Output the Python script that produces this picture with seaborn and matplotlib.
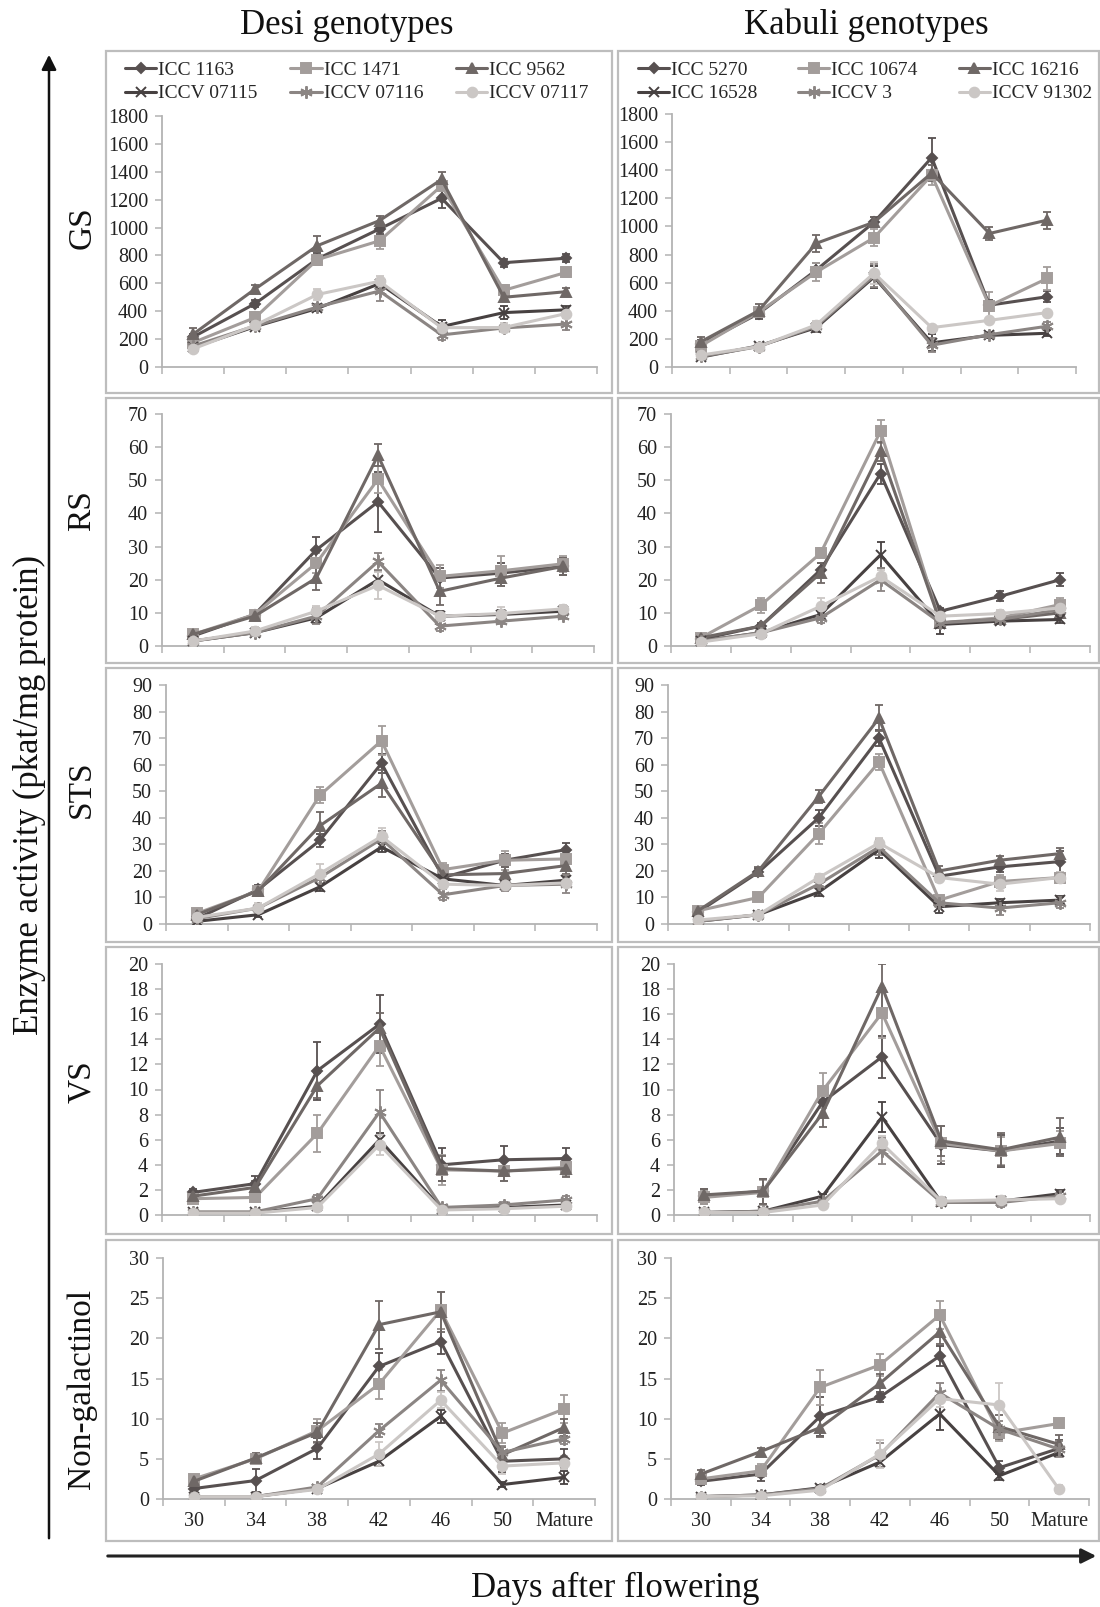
import numpy as np
import pandas as pd
import matplotlib
matplotlib.use("Agg")
import matplotlib.pyplot as plt
from matplotlib.patches import Rectangle, FancyArrowPatch
import seaborn as sns

# ---------------- data ----------------
days = ["30", "34", "38", "42", "46", "50", "Mature"]
desi = ["ICC 1163", "ICC 1471", "ICC 9562", "ICCV 07115", "ICCV 07116", "ICCV 07117"]
kabuli = ["ICC 5270", "ICC 10674", "ICC 16216", "ICC 16528", "ICCV 3", "ICCV 91302"]
enzymes = ["GS", "RS", "STS", "VS", "Non-galactinol"]
y_max = [1800, 70, 90, 20, 30]
y_step = [200, 10, 10, 2, 5]

gs_desi = [[215, 455, 775, 990, 1210, 748, 780],
           [175, 355, 770, 905, 1300, 550, 678],
           [235, 560, 870, 1050, 1345, 500, 540],
           [140, 290, 420, 598, 290, 390, 410],
           [150, 295, 430, 545, 230, 280, 308],
           [130, 300, 520, 615, 282, 283, 383]]
gs_desi_err = [[25, 25, 40, 35, 70, 30, 30],
               [20, 40, 30, 60, 40, 40, 30],
               [45, 25, 70, 30, 55, 25, 25],
               [15, 20, 20, 30, 50, 45, 25],
               [15, 20, 20, 75, 35, 20, 40],
               [20, 15, 40, 40, 30, 30, 30]]
gs_kab = [[165, 380, 690, 1030, 1490, 440, 500],
          [150, 390, 675, 920, 1365, 435, 630],
          [180, 400, 880, 1030, 1380, 950, 1045],
          [70, 150, 280, 640, 172, 225, 240],
          [75, 145, 290, 650, 155, 230, 290],
          [85, 145, 300, 668, 280, 332, 387]]
gs_kab_err = [[25, 40, 50, 35, 140, 40, 40],
              [25, 30, 65, 60, 70, 100, 80],
              [30, 45, 60, 35, 60, 45, 60],
              [10, 20, 30, 80, 60, 20, 20],
              [10, 20, 30, 80, 50, 20, 30],
              [20, 20, 30, 80, 20, 15, 20]]

rs_desi = [[3, 9.5, 29, 43.5, 20.5, 22, 24],
           [3.5, 9.5, 25, 50.3, 21, 22.7, 24.8],
           [3.5, 9, 20.5, 57.5, 16.5, 20.5, 24],
           [1.5, 4, 8.5, 20, 9, 9.5, 10.5],
           [1.5, 4, 9, 25.5, 6, 7.5, 9],
           [1.5, 4.5, 10.5, 18.3, 9, 9.8, 11.2]]
rs_desi_err = [[0.8, 1, 4, 9, 3, 3, 2.5],
               [0.8, 1, 3, 4, 3.5, 4.5, 2.5],
               [0.8, 1, 3.5, 3.3, 4, 2.5, 2.5],
               [0.5, 1, 1.5, 2.5, 1.5, 1.5, 1],
               [0.5, 1, 2.5, 2.5, 1.5, 1, 1],
               [0.5, 1.3, 1.5, 4, 1, 2, 1.2]]
rs_kab = [[2, 6, 23, 52, 10.5, 15, 20],
          [2.5, 12.3, 28, 64.8, 7, 8.5, 12.5],
          [2.5, 6, 22, 58.7, 7, 8, 10],
          [1.5, 4, 9.5, 27.5, 6.5, 7.5, 8],
          [1.5, 4, 8.5, 20, 7, 8, 11],
          [1.2, 3.7, 12, 21, 9, 9.8, 11.5]]
rs_kab_err = [[0.8, 1, 2, 3, 1, 1.5, 2],
              [0.8, 2.2, 1.5, 3.5, 1, 1, 2],
              [0.8, 1, 3, 3, 1, 1, 1.5],
              [0.5, 1, 1.5, 4, 3, 1, 1],
              [0.5, 1, 1.5, 3.5, 1, 1, 1.5],
              [0.5, 1.2, 2.5, 2, 1, 1, 1.5]]

sts_desi = [[2, 13, 31.5, 60.5, 17.5, 24, 28],
            [4, 12.5, 48.5, 69, 20.5, 24, 24.5],
            [3.5, 12.5, 37, 53, 18.5, 19, 22],
            [1, 3.5, 14, 29, 17, 14.5, 16.5],
            [2, 6, 17.5, 32, 11, 14.5, 15],
            [2.5, 6, 19, 33, 15, 14.5, 15.5]]
sts_desi_err = [[0.5, 1.5, 2.5, 3.5, 2.5, 2.5, 2.5],
                [0.5, 1.5, 3, 5.5, 2.5, 3.5, 3],
                [0.5, 1.5, 5, 5, 2.5, 2.5, 3],
                [0.3, 0.8, 1.5, 2, 1.5, 1.5, 1.5],
                [0.5, 1, 2, 3, 2, 2, 3.5],
                [0.5, 2, 3.5, 3, 1.5, 1.5, 1.5]]
sts_kab = [[4.5, 19.5, 40, 70, 18, 21.5, 23.5],
           [5, 10, 34, 61, 9, 16, 17.5],
           [5, 20, 48, 77.5, 20, 24, 26.5],
           [1, 3.5, 12, 28, 6.5, 8, 9],
           [1, 3.5, 15, 29, 8, 6, 8],
           [1.5, 3.5, 17.5, 30.5, 17.5, 15, 17.5]]
sts_kab_err = [[0.8, 1.5, 3, 3, 2, 2, 4],
               [0.8, 1.5, 4, 3, 1.5, 2.5, 2],
               [0.8, 1.5, 2.5, 5, 2, 1.5, 2],
               [0.5, 0.8, 1.5, 3, 2.5, 1.5, 1.5],
               [0.5, 0.8, 1.5, 3, 1.5, 2.5, 2],
               [0.5, 0.8, 1.5, 2, 1.5, 2.5, 2]]

vs_desi = [[1.8, 2.5, 11.5, 15.2, 4, 4.4, 4.5],
           [1.3, 1.4, 6.5, 13.5, 3.6, 3.5, 3.8],
           [1.5, 2.2, 10.3, 14.9, 3.7, 3.5, 3.7],
           [0.2, 0.2, 0.7, 6, 0.5, 0.6, 0.8],
           [0.25, 0.25, 1.3, 8.2, 0.6, 0.8, 1.2],
           [0.15, 0.15, 0.6, 5.6, 0.4, 0.5, 0.7]]
vs_desi_err = [[0.3, 0.6, 2.3, 2.3, 1.3, 1.1, 0.8],
               [0.3, 0.4, 1.5, 1.6, 1.2, 0.8, 0.7],
               [0.3, 0.5, 1, 1.2, 1, 0.8, 0.7],
               [0.1, 0.1, 0.2, 0.5, 0.2, 0.2, 0.2],
               [0.1, 0.1, 0.3, 1.8, 0.2, 0.2, 0.3],
               [0.1, 0.1, 0.2, 0.8, 0.1, 0.1, 0.2]]
vs_kab = [[1.5, 1.9, 9, 12.6, 5.6, 5.1, 5.9],
          [1.4, 1.8, 9.9, 16.1, 5.7, 5.1, 5.7],
          [1.6, 1.9, 8.1, 18.2, 5.9, 5.2, 6.2],
          [0.2, 0.3, 1.5, 7.8, 1, 1.1, 1.7],
          [0.2, 0.3, 1.1, 5.1, 1, 1, 1.5],
          [0.2, 0.2, 0.8, 5.7, 1.1, 1.2, 1.3]]
vs_kab_err = [[0.6, 1, 1.1, 1.7, 1.5, 1.3, 1],
              [0.5, 1, 1.4, 2, 1.4, 1.1, 1],
              [0.5, 1, 1.1, 1.8, 1.2, 1.3, 1.5],
              [0.1, 0.1, 0.2, 1.2, 0.3, 0.3, 0.3],
              [0.1, 0.1, 0.2, 1, 0.3, 0.4, 0.3],
              [0.1, 0.1, 0.2, 0.6, 0.3, 0.3, 0.3]]

ng_desi = [[1.3, 2.3, 6.3, 16.5, 19.6, 4.7, 5],
           [2.5, 5, 8.5, 14.3, 23.5, 8.2, 11.2],
           [2.2, 5.1, 8.3, 21.7, 23.3, 5.5, 8.9],
           [0.3, 0.3, 1.3, 4.7, 10.3, 1.8, 2.7],
           [0.3, 0.3, 1.5, 8.5, 14.8, 5.8, 7.5],
           [0.3, 0.3, 1.2, 5.6, 12.3, 4.1, 4.5]]
ng_desi_err = [[0.3, 1.4, 1.3, 1.7, 1.5, 1.3, 1.2],
               [0.3, 0.6, 1.5, 1.8, 2.3, 1.2, 1.7],
               [0.3, 0.6, 1.2, 3, 2.5, 1, 1],
               [0.1, 0.1, 0.2, 0.6, 0.8, 0.3, 0.8],
               [0.1, 0.1, 0.2, 0.8, 1.3, 0.8, 0.7],
               [0.1, 0.1, 0.2, 1.5, 1, 1, 0.8]]
ng_kab = [[2.2, 3.1, 10.3, 12.7, 17.8, 3.9, 6.3],
          [2.5, 3.5, 13.9, 16.7, 22.9, 8.2, 9.4],
          [3.1, 5.9, 8.9, 14.4, 20.8, 9, 6.8],
          [0.3, 0.5, 1.4, 4.6, 10.6, 2.9, 5.8],
          [0.3, 0.5, 1.3, 5.5, 13.2, 8.7, 6.2],
          [0.3, 0.4, 1.1, 5.6, 12.5, 11.7, 1.2]]
ng_kab_err = [[0.5, 0.8, 2.4, 0.6, 1.2, 0.8, 1],
              [0.5, 0.8, 2.2, 1.4, 1.8, 1, 0.5],
              [0.5, 0.5, 1.2, 1.2, 1.5, 1.5, 1.2],
              [0.1, 0.1, 0.3, 0.6, 2, 0.5, 0.5],
              [0.1, 0.1, 0.3, 1.5, 1.3, 1, 1],
              [0.1, 0.1, 0.3, 1.8, 1, 2.8, 0.5]]

# ---------------- style ----------------
colors = ["#575050", "#a39d9b", "#6f6866", "#474141", "#8b8583", "#cbc7c5"]
markers = ["D", "s", "^", "x", (6, 2, 0), "o"]
msizes = [5, 7, 7, 7, 9, 7]

sns.set_theme(style="white")
plt.rcParams["font.family"] = ["Liberation Serif", "DejaVu Serif"]

W, H = 1100, 1607
fig = plt.figure(figsize=(W / 100, H / 100), dpi=100)

def fr(x0, y0, x1, y1):
    return [x0 / W, 1 - y1 / H, (x1 - x0) / W, (y1 - y0) / H]

# panel boxes (pixel coords, top-left origin)
row_y = [(51, 393), (398, 663), (668, 942), (947, 1234), (1240, 1541)]
col_x = [(106, 612), (618, 1099)]
for (y0, y1) in row_y:
    for (x0, x1) in col_x:
        fig.add_artist(Rectangle((x0 / W, 1 - y1 / H), (x1 - x0) / W, (y1 - y0) / H,
                                 transform=fig.transFigure, fill=False,
                                 ec="#bdbdbd", lw=1.6))

axes_pos = [
    [(162, 116, 597, 367), (672, 114, 1076, 367)],
    [(162, 414, 594, 646), (671, 414, 1090, 646)],
    [(166, 685, 597, 924), (668, 685, 1090, 924)],
    [(162, 964, 597, 1215), (674, 964, 1090, 1215)],
    [(163, 1258, 595, 1499), (671, 1258, 1089, 1499)],
]

panel_data = [
    [(gs_desi, gs_desi_err), (gs_kab, gs_kab_err)],
    [(rs_desi, rs_desi_err), (rs_kab, rs_kab_err)],
    [(sts_desi, sts_desi_err), (sts_kab, sts_kab_err)],
    [(vs_desi, vs_desi_err), (vs_kab, vs_kab_err)],
    [(ng_desi, ng_desi_err), (ng_kab, ng_kab_err)],
]

spine_c = "#b3b3b3"
tick_fs = 14.5

for r in range(5):
    for c in range(2):
        names = desi if c == 0 else kabuli
        vals, errs = panel_data[r][c]
        rows = []
        for gi, g in enumerate(names):
            for di, d in enumerate(days):
                rows.append({"genotype": g, "day": d, "x": di,
                             "value": vals[gi][di], "err": errs[gi][di]})
        df = pd.DataFrame(rows)
        ax = fig.add_axes(fr(*axes_pos[r][c]))
        for gi, g in enumerate(names):
            sub = df[df["genotype"] == g]
            ax.errorbar(sub["x"], sub["value"], yerr=sub["err"], fmt="none",
                        ecolor=colors[gi], elinewidth=1.3, capsize=3.2,
                        capthick=1.3, zorder=2)
            sns.lineplot(data=sub, x="x", y="value", ax=ax, color=colors[gi],
                         marker=markers[gi], markersize=msizes[gi],
                         markerfacecolor=colors[gi], markeredgecolor=colors[gi],
                         markeredgewidth=1.4, lw=2.2, errorbar=None,
                         legend=False, label=g, zorder=3)
        ax.set_xlim(-0.5, 6.5)
        ax.set_ylim(0, y_max[r])
        ax.set_yticks(np.arange(0, y_max[r] + 0.01, y_step[r]))
        ax.set_yticklabels([f"{v:g}" for v in np.arange(0, y_max[r] + 0.01, y_step[r])],
                           fontsize=tick_fs, color="#222222")
        ax.set_xticks(range(len(days)))
        if r == 4:
            ax.set_xticklabels(days, fontsize=tick_fs, color="#222222")
        else:
            ax.set_xticklabels([])
        ax.set_xticks(np.arange(-0.5, 7, 1), minor=True)
        ax.tick_params(axis="x", which="major", length=0, pad=9)
        ax.tick_params(axis="x", which="minor", length=5, width=1.1,
                       color=spine_c, direction="out", bottom=True)
        ax.tick_params(axis="y", which="major", length=5, width=1.1,
                       color=spine_c, direction="out", left=True, pad=5)
        ax.set_xlabel("")
        ax.set_ylabel("")
        ax.set_facecolor("none")
        for s in ["top", "right"]:
            ax.spines[s].set_visible(False)
        for s in ["left", "bottom"]:
            ax.spines[s].set_color(spine_c)
            ax.spines[s].set_linewidth(1.3)
        ax.patch.set_alpha(0)

        if r == 0:
            handles = [l for l in ax.get_lines() if not l.get_label().startswith("_")]
            # legend fills column by column: reorder so rows read left to right
            order = [0, 3, 1, 4, 2, 5]
            handles = [handles[i] for i in order]
            labels = [h.get_label() for h in handles]
            anchor_x = 125 if c == 0 else 638
            colsp = 1.7 if c == 0 else 2.1
            fig.legend(handles, labels, loc="upper left",
                       bbox_to_anchor=(anchor_x / W, 1 - 61 / H),
                       bbox_transform=fig.transFigure, ncol=3, frameon=False,
                       fontsize=14, handlelength=1.6, handletextpad=0.1,
                       columnspacing=colsp, labelspacing=0.32, borderpad=0,
                       borderaxespad=0)

# column titles
fig.text(347 / W, 1 - 25 / H, "Desi genotypes", ha="center", va="center",
         fontsize=25, color="#111111")
fig.text(866 / W, 1 - 25 / H, "Kabuli genotypes", ha="center", va="center",
         fontsize=25, color="#111111")

# row labels
row_label_y = [228, 511, 789, 1082, 1389]
for lab, yy in zip(enzymes, row_label_y):
    fig.text(82 / W, 1 - yy / H, lab, rotation=90, ha="center", va="center",
             fontsize=24, color="#111111")

# big arrows and axis titles
fig.add_artist(FancyArrowPatch((49 / W, 1 - 1541 / H), (49 / W, 1 - 52 / H),
                               transform=fig.transFigure, arrowstyle="-|>",
                               mutation_scale=22, lw=1.8, color="#111111"))
fig.add_artist(FancyArrowPatch((105 / W, 1 - 1556 / H), (1099 / W, 1 - 1556 / H),
                               transform=fig.transFigure, arrowstyle="-|>",
                               mutation_scale=22, lw=2.2, color="#222222"))
fig.text(29 / W, 1 - 795 / H, "Enzyme activity (pkat/mg protein)", rotation=90,
         ha="center", va="center", fontsize=25, color="#111111")
fig.text(615 / W, 1 - 1588 / H, "Days after flowering", ha="center", va="center",
         fontsize=25, color="#111111")

fig.savefig("out.png", dpi=100, facecolor="white")
